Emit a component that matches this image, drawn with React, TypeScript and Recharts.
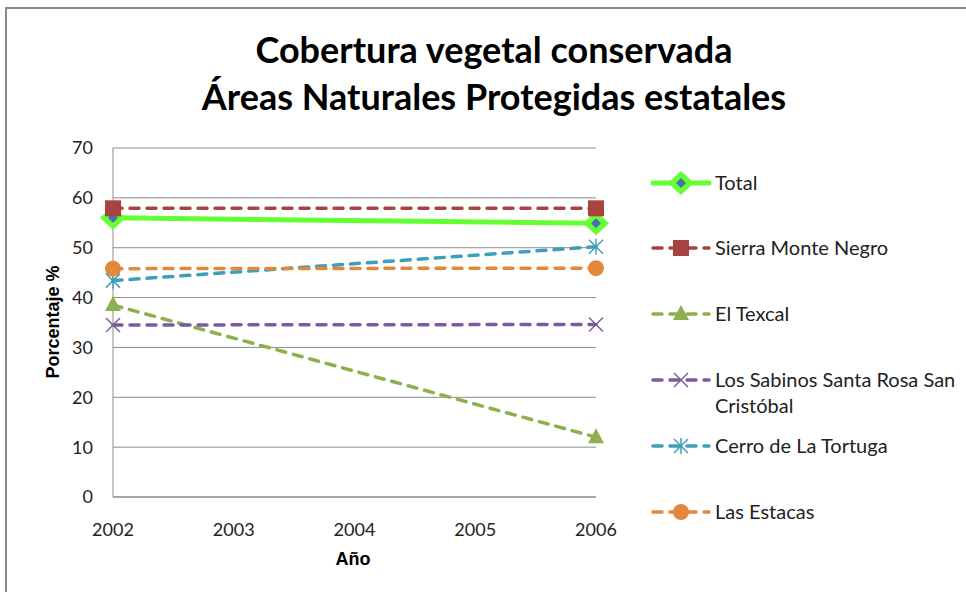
import React from 'react';
import { LineChart, Line, XAxis, YAxis, CartesianGrid } from 'recharts';

const years = [2002, 2006];
const xTicks = [2002, 2003, 2004, 2005, 2006];
const yTicks = [0, 10, 20, 30, 40, 50, 60, 70];
const seriesNames = ['Total', 'Sierra Monte Negro', 'El Texcal', 'Los Sabinos Santa Rosa San Cristóbal', 'Cerro de La Tortuga', 'Las Estacas'];
const total = [56, 54.9];
const sierraMonteNegro = [57.9, 57.9];
const elTexcal = [38.5, 12];
const losSabinos = [34.5, 34.6];
const cerroTortuga = [43.4, 50.2];
const lasEstacas = [45.8, 45.9];
const titleLines = ['Cobertura vegetal conservada', 'Áreas Naturales Protegidas estatales'];

const keys = ['total', 'sierra', 'texcal', 'sabinos', 'cerro', 'estacas'];
const values = [total, sierraMonteNegro, elTexcal, losSabinos, cerroTortuga, lasEstacas];
const data = years.map((y, i) => {
  const row: any = { year: y };
  keys.forEach((k, j) => { row[k] = values[j][i]; });
  return row;
});

const colors = ['#66FF33', '#A8433F', '#8DAF4E', '#7A5C9E', '#3F9EB8', '#E3873B'];
const markers = ['diamond', 'square', 'triangle', 'x', 'star', 'circle'];
const FONT = 'Lato, "Noto Sans", sans-serif';
const BOLD_FONT = "'Liberation Sans', Arial, sans-serif";

function Marker({ kind, cx, cy, color }: any) {
  if (cx == null || cy == null) return null;
  switch (kind) {
    case 'diamond':
      return (
        <g>
          <polygon points={`${cx - 13},${cy} ${cx},${cy - 12} ${cx + 13},${cy} ${cx},${cy + 12}`} fill={color} />
          <polygon points={`${cx - 5},${cy} ${cx},${cy - 5} ${cx + 5},${cy} ${cx},${cy + 5}`} fill="#4A6FB5" />
        </g>
      );
    case 'square':
      return <rect x={cx - 8} y={cy - 8} width={16} height={16} fill={color} />;
    case 'triangle':
      return <polygon points={`${cx},${cy - 9} ${cx + 8},${cy + 6} ${cx - 8},${cy + 6}`} fill={color} />;
    case 'x':
      return (
        <g stroke={color} strokeWidth={1.5}>
          <line x1={cx - 7} y1={cy - 7} x2={cx + 7} y2={cy + 7} />
          <line x1={cx - 7} y1={cy + 7} x2={cx + 7} y2={cy - 7} />
        </g>
      );
    case 'star':
      return (
        <g stroke={color} strokeWidth={1.5}>
          <line x1={cx - 7} y1={cy - 7} x2={cx + 7} y2={cy + 7} />
          <line x1={cx - 7} y1={cy + 7} x2={cx + 7} y2={cy - 7} />
          <line x1={cx} y1={cy - 8} x2={cx} y2={cy + 8} />
        </g>
      );
    case 'circle':
      return <circle cx={cx} cy={cy} r={8} fill={color} />;
    default:
      return null;
  }
}

const legendRows = [183, 248, 314, 380, 446, 512];

export default function App() {
  return (
    <div style={{ position: 'absolute', left: 0, top: 0, width: 966, height: 592, overflow: 'hidden', background: '#fff' }}>
      <div style={{ position: 'absolute', left: 5, top: 7, width: 1000, height: 700, border: '2px solid #8a8a8a' }} />
      <div style={{ position: 'absolute', left: 0, top: 0 }}>
        <LineChart width={966} height={592} data={data} margin={{ top: 148, right: 370, bottom: 0, left: 0 }}>
          <CartesianGrid vertical={false} stroke="#8c8c8c" strokeWidth={1} />
          <XAxis
            dataKey="year"
            type="number"
            domain={[2002, 2006]}
            ticks={xTicks}
            tickLine={false}
            axisLine={{ stroke: '#8c8c8c' }}
            height={95}
            tickMargin={20}
            tick={{ fill: '#222', fontSize: 18, fontFamily: FONT }}
          />
          <YAxis
            type="number"
            domain={[0, 70]}
            ticks={yTicks}
            tickLine={false}
            axisLine={{ stroke: '#8c8c8c' }}
            width={113}
            tickMargin={14}
            tick={{ fill: '#222', fontSize: 18, fontFamily: FONT }}
          />
          {keys.map((k, i) => (
            <Line
              key={k}
              dataKey={k}
              name={seriesNames[i]}
              stroke={colors[i]}
              strokeWidth={i === 0 ? 5 : 3.5}
              strokeDasharray={i === 0 ? undefined : '9 8'}
              strokeLinecap="round"
              isAnimationActive={false}
              dot={(p: any) => <Marker key={`${k}-${p.index}`} kind={markers[i]} cx={p.cx} cy={p.cy} color={colors[i]} />}
              activeDot={false}
            />
          ))}
        </LineChart>
      </div>
      <svg width={966} height={592} style={{ position: 'absolute', left: 0, top: 0, pointerEvents: 'none' }}>
        <text x={494} y={63} textAnchor="middle" fontFamily={FONT} fontWeight={700} fontSize={36} fill="#000">{titleLines[0]}</text>
        <text x={494} y={110} textAnchor="middle" fontFamily={FONT} fontWeight={700} fontSize={36} fill="#000">{titleLines[1]}</text>
        <text x={353} y={565} textAnchor="middle" fontFamily={BOLD_FONT} fontWeight={700} fontSize={18} fill="#000">Año</text>
        <text transform="translate(59,322) rotate(-90)" textAnchor="middle" fontFamily={BOLD_FONT} fontWeight={700} fontSize={18} fill="#000">Porcentaje %</text>
        {seriesNames.map((name, i) => {
          const y = legendRows[i];
          const dashed = i !== 0;
          const parts = i === 3 ? ['Los Sabinos Santa Rosa San', 'Cristóbal'] : [name];
          return (
            <g key={name}>
              <line x1={653} y1={y} x2={709} y2={y} stroke={colors[i]} strokeWidth={i === 0 ? 5 : 3.5}
                strokeDasharray={dashed ? '9 8' : undefined} strokeLinecap="round" />
              <Marker kind={markers[i]} cx={681} cy={y} color={colors[i]} />
              {parts.map((t, j) => (
                <text key={j} x={715} y={y + 7 + j * 26} fontFamily={FONT} fontSize={20} fill="#222">{t}</text>
              ))}
            </g>
          );
        })}
      </svg>
    </div>
  );
}
